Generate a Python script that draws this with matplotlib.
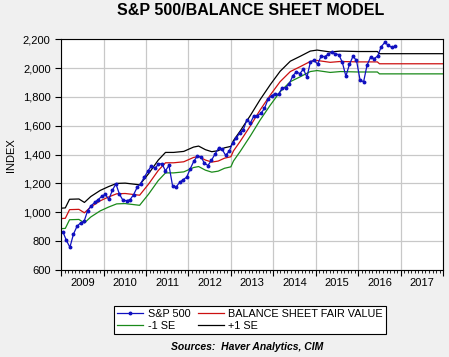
import numpy as np
import matplotlib.pyplot as plt
from matplotlib.ticker import FuncFormatter, MultipleLocator

plt.rcParams['font.family'] = ['Liberation Sans', 'DejaVu Sans']

# S&P 500, monthly averages Jan 2009 - Nov 2016
sp500 = [865, 805, 757, 848, 902, 926, 936, 1010, 1045, 1068, 1088, 1110,
         1124, 1089, 1152, 1197, 1125, 1083, 1080, 1087, 1122, 1172, 1199, 1242,
         1283, 1321, 1305, 1332, 1338, 1287, 1325, 1185, 1174, 1207, 1226, 1243,
         1301, 1353, 1389, 1386, 1341, 1324, 1360, 1403, 1443, 1438, 1395, 1422,
         1480, 1512, 1551, 1571, 1640, 1619, 1669, 1670, 1687, 1720, 1784, 1808,
         1822, 1817, 1864, 1864, 1890, 1947, 1973, 1962, 1993, 1937, 2045, 2054,
         2028, 2082, 2080, 2095, 2112, 2099, 2094, 2040, 1944, 2025, 2081, 2054,
         1919, 1904, 2022, 2076, 2066, 2084, 2149, 2178, 2158, 2143, 2150]
sp_x = 2009 + (np.arange(len(sp500)) + 0.5) / 12

# model lines
model_x = [2009.00, 2009.10, 2009.20, 2009.42, 2009.55, 2009.70, 2009.92, 2010.12,
           2010.31, 2010.51, 2010.71, 2010.85, 2011.06, 2011.29, 2011.46, 2011.65,
           2011.89, 2012.12, 2012.24, 2012.40, 2012.55, 2012.70, 2012.85, 2013.00,
           2013.06, 2013.22, 2013.46, 2013.69, 2013.93, 2014.16, 2014.40, 2014.64,
           2014.87, 2015.03, 2015.34, 2015.58, 2016.00, 2016.45, 2016.50, 2018.00]
fair = [956, 958, 1018, 1020, 996, 1037, 1079, 1106,
        1128, 1130, 1123, 1118, 1195, 1290, 1343, 1343,
        1350, 1380, 1387, 1362, 1348, 1355, 1375, 1385,
        1425, 1492, 1600, 1710, 1814, 1906, 1976, 2011,
        2046, 2053, 2040, 2046, 2043, 2043, 2030, 2030]
upper = [1028, 1030, 1090, 1092, 1068, 1109, 1151, 1178,
         1200, 1202, 1195, 1190, 1267, 1362, 1415, 1415,
         1422, 1452, 1459, 1434, 1420, 1427, 1447, 1457,
         1497, 1564, 1672, 1782, 1886, 1978, 2048, 2083,
         2118, 2125, 2112, 2118, 2115, 2115, 2100, 2100]
lower = [886, 888, 948, 950, 926, 967, 1009, 1036,
         1058, 1060, 1053, 1048, 1125, 1220, 1273, 1273,
         1280, 1310, 1317, 1292, 1278, 1285, 1305, 1315,
         1355, 1422, 1530, 1640, 1744, 1836, 1906, 1941,
         1976, 1983, 1970, 1976, 1973, 1973, 1960, 1960]

years = list(range(2009, 2018))

BG = '#F0F0F0'
fig = plt.figure(figsize=(4.49, 3.57), dpi=100, facecolor=BG)
ax = fig.add_axes([0.136, 0.244, 0.851, 0.646])
ax.set_facecolor('white')

l_up, = ax.plot(model_x, upper, color='black', lw=0.9)
l_lo, = ax.plot(model_x, lower, color='#1A8A1A', lw=0.9)
l_fv, = ax.plot(model_x, fair, color='#CC1010', lw=0.9)
l_sp, = ax.plot(sp_x, sp500, color='#1010C0', lw=0.9, marker='o', ms=1.8)

ax.set_xlim(2009, 2018)
ax.set_ylim(600, 2200)
ax.yaxis.set_major_locator(MultipleLocator(200))
ax.yaxis.set_major_formatter(FuncFormatter(lambda v, p: f'{int(v):,}'))
ax.set_xticks(range(2009, 2019))
ax.set_xticklabels([])
ax.xaxis.set_minor_locator(MultipleLocator(1 / 12))
ax.tick_params(axis='x', which='major', length=4, direction='out', width=0.8)
ax.tick_params(axis='x', which='minor', length=2, direction='out', width=0.6)
ax.tick_params(axis='y', length=4, direction='out', labelsize=8, width=0.8)
ax.grid(True, which='major', color='#C8C8C8', lw=0.9)
ax.set_axisbelow(True)
for s in ax.spines.values():
    s.set_color('black')
    s.set_linewidth(0.8)

# year labels between the boundary ticks
sec = ax.secondary_xaxis('bottom')
sec.set_xticks([y + 0.5 for y in years])
sec.set_xticklabels([str(y) for y in years], fontsize=8)
sec.tick_params(length=0, pad=6)
sec.spines['bottom'].set_visible(False)

fig.text(0.559, 0.971, 'S&P 500/BALANCE SHEET MODEL', ha='center', va='center',
         fontsize=11.5, fontweight='bold')
fig.text(0.024, 0.566, 'INDEX', rotation=90, ha='center', va='center', fontsize=8)

leg = fig.legend([l_sp, l_lo, l_fv, l_up],
                 ['S&P 500', '-1 SE', 'BALANCE SHEET FAIR VALUE', '+1 SE'],
                 ncol=2, loc='center', bbox_to_anchor=(0.557, 0.104),
                 fontsize=7.8, frameon=True, fancybox=False, edgecolor='black',
                 framealpha=1, borderpad=0.3, handlelength=2.4, labelspacing=0.15,
                 columnspacing=0.7, handletextpad=0.4, borderaxespad=0)
leg.get_frame().set_linewidth(0.8)

fig.text(0.55, 0.028, 'Sources:  Haver Analytics, CIM', ha='center', va='center',
         fontsize=7.5, fontweight='bold', style='italic')

fig.savefig('out.png', dpi=100, facecolor=BG)
